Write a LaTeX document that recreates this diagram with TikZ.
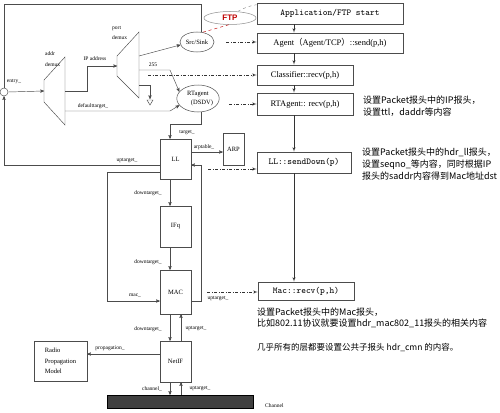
\documentclass[tikz,border=0pt]{standalone}
\usepackage{fontspec}
\setmainfont{Liberation Serif}
\newfontfamily\cjk{Noto Sans CJK SC}
\newfontfamily\ftpfont{Liberation Sans}
\usetikzlibrary{
  arrows,
  shapes.geometric,
  positioning
}

\begin{document}
\begin{tikzpicture}[x=1pt,y=-1pt,
      callbox/.style={
         rectangle,
         draw=black!70,
         line width=0.6pt,
         inner sep=0pt,
         font=\fontsize{8.5}{10}\selectfont
      },
      monobox/.style={
         callbox,
         font=\ttfamily\fontsize{9}{10}\selectfont
      },
      layer/.style={
         rectangle,
         draw=black!70,
         line width=0.5pt,
         minimum width=31pt,
         inner sep=0pt,
         font=\fontsize{6.5}{8}\selectfont
      },
      agentell/.style={
         ellipse,
         draw=black!70,
         line width=0.5pt,
         inner sep=0pt,
         align=center,
         font=\fontsize{6.5}{9}\selectfont
      },
      lbl/.style={inner sep=0pt,font=\fontsize{5.5}{10}\selectfont},
      note/.style={inner sep=0pt,anchor=west,align=left,
         font=\cjk\fontsize{9}{12}\selectfont},
      point/.style={coordinate},
      wire/.style={draw=black!70,line width=0.45pt},
      >=stealth',
      tip/.style={->,wire},
      flow/.style={-latex',draw=black!80,line width=0.5pt},
      dashflow/.style={flow,dash pattern=on 3pt off 1.5pt on 1pt off 1.5pt},
    ]
    \useasboundingbox (0,0) rectangle (500,412);
    % call sequence
    \node (app)   [monobox, minimum width=146pt, minimum height=21pt] at (330,13.5) {Application/FTP start};
    \node (agent) [callbox, minimum width=146pt, minimum height=20pt] at (330,43) {Agent{\cjk（}Agent/TCP{\cjk）}::send(p,h)};
    \node (cls)   [callbox, minimum width=96pt, minimum height=20pt] at (305,75) {Classifier::recv(p,h)};
    \node (rta)   [callbox, minimum width=96pt, minimum height=22pt] at (305,104) {RTAgent:: recv(p,h)};
    \node (llsd)  [monobox, minimum width=94pt, minimum height=21pt] at (304,162.5) {LL::sendDown(p)};
    \node (macr)  [monobox, minimum width=96pt, minimum height=18pt] at (306,291) {Mac::recv(p,h)};
    \node (col) [point] at (294,0) {};
    \node (dn)  [point] at (170,0) {};
    \node (up)  [point] at (181,0) {};

    \node (rtanote) [note] at (363,106) {设置Packet报头中的IP报头，\\设置ttl，daddr等内容};
    \node (llnote)  [note] at (362,164) {设置Packet报头中的hdr\_ll报头，\\设置seqno\_等内容，同时根据IP\\报头的saddr内容得到Mac地址dst};
    \node (macnote) [note, font=\cjk\fontsize{9}{10.5}\selectfont] at (257,318) {设置Packet报头中的Mac报头，\\比如802.11协议就要设置hdr\_mac802\_11报头的相关内容};
    \node (cmnnote) [note, font=\cjk\fontsize{8.5}{10}\selectfont] at (257,347) {几乎所有的层都要设置公共子报头 hdr\_cmn 的内容。};

    % node internals
    \node (entry) [circle, wire, draw, minimum size=8pt, inner sep=0pt] at (4,92) {};
    \node (src)  [agentell, minimum width=34pt, minimum height=20pt] at (197,42) {Src/Sink};
    \node (rtag) [agentell, minimum width=38pt, minimum height=27pt] at (198,98.5) {RTagent\\\hspace*{8pt}(DSDV)};
    \node (ftp)  [ellipse, draw=black!45, line width=0.5pt, minimum width=52pt, minimum height=13pt, inner sep=0pt,
                  font=\ftpfont\bfseries\fontsize{8}{9}\selectfont, text=red!75!black] at (230,18) {FTP};
    \node (ll)    [layer, minimum height=40pt] at (175.5,159) {LL};
    \node (ifq)   [layer, minimum height=41pt] at (175.5,226.5) {IFq};
    \node (mac)   [layer, minimum height=44pt] at (175.5,292) {MAC};
    \node (netif) [layer, minimum height=41pt] at (175.5,361.5) {NetIF};
    \node (arp)   [layer, minimum width=21pt, minimum height=32pt] at (233.5,149) {ARP};
    \node (rpm)   [layer, minimum width=53pt, minimum height=40pt, align=left,
                   font=\fontsize{6.5}{10.5}\selectfont] at (60.5,361) {Radio\\Propagation\\Model};
    \node (chan)  [rectangle, draw=black, fill=black!75, minimum width=146pt, minimum height=13pt, inner sep=0pt] at (180,401.5) {};

    % demuxes
    \coordinate (a1) at (44,80);
    \coordinate (a2) at (65,57);
    \coordinate (a3) at (65,125);
    \coordinate (a4) at (44,102);
    \draw[wire] (a1) -- (a2) -- (a3) -- (a4) -- cycle;
    \coordinate (p1) at (117,56);
    \coordinate (p2) at (139,32);
    \coordinate (p3) at (139,98);
    \coordinate (p4) at (117,76);
    \draw[wire] (p1) -- (p2) -- (p3) -- (p4) -- cycle;
    \coordinate (addrin) at (44,91);
    \coordinate (addrout) at (65,91);
    \coordinate (addrdef) at (65,111);
    \coordinate (portin) at (117,66);
    \coordinate (portsrc) at (139,56);
    \coordinate (port255) at (139,70);
    \coordinate (portnull) at (139,85);
    \coordinate (ftop) at (4,4);

    \draw[tip] (entry.east) -- (addrin);
    \draw[tip] (addrout) -- ++(22,0) |- (portin);
    \draw[tip] (portsrc) -- (src.190);
    \draw[tip] (port255) -- ++(31,0) -- (rtag.160);
    \draw[tip] (portnull) -- ++(11,0) -- ++(0,14);
    \draw[wire] (147,100) -- (153,100) -- (150,105) -- cycle;
    \draw[tip] (addrdef) -- ++(105,0) -- (rtag.200);
    \draw[wire] (src.65) |- (ftop) -- (entry.north);
    \draw[tip] (rtag.285) -- ++(0,12.5) -| (ll.north -| dn);
    \draw[tip] ([yshift=-6pt]ll.west) -| (entry.south);
    \draw[tip] ([yshift=-13pt]ll.west) -- ++(-53,0) |- ([yshift=-9pt]mac.west);
    \draw[tip] ([yshift=7pt]ll.east) -- ([yshift=7pt]ll.east -| arp.west);
    \draw[tip] (ll.south -| dn) -- (ifq.north -| dn);
    \draw[tip] (ifq.south -| dn) -- (mac.north -| dn);
    \draw[tip] ([yshift=-9pt]mac.east) -- ++(10,0) |- ([yshift=-6pt]ll.east);
    \draw[tip] (mac.south -| dn) -- (netif.north -| dn);
    \draw[tip] (netif.north -| up) -- (mac.south -| up);
    \draw[tip] (netif.south -| dn) -- (chan.north -| dn);
    \draw[tip] (chan.north -| up) -- (netif.south -| up);
    \draw[tip] ([yshift=7.5pt]netif.west) -- ([yshift=7.5pt]netif.west -| rpm.east);
    \draw[red!75!black, dashed, line width=0.45pt] (ftp.260) -- (src.60);
    \draw[black!45, dashed, line width=0.45pt] (ftp.40) to[bend left=10] ([yshift=-2pt]app.north west);

    % labels
    \node (lentry) [lbl] at (14,82) {entry\_};
    \node (laddr)  [lbl, align=left, anchor=west, font=\fontsize{5.5}{11}\selectfont] at (45,59.5) {addr\\demux};
    \node (lport)  [lbl, align=left, anchor=west, font=\fontsize{5.5}{10}\selectfont] at (112,33) {port\\demux};
    \node (lip)    [lbl] at (95,59) {IP address};
    \node (l255)   [lbl] at (153,65) {255};
    \node (ldef)   [lbl] at (93,106) {defaulttarget\_};
    \node (ltgt)   [lbl] at (187,133) {target\_};
    \node (larp)   [lbl] at (204,147) {arptable\_};
    \node (lup1)   [lbl] at (127,161) {uptarget\_};
    \node (ldn1)   [lbl] at (148,193) {downtarget\_};
    \node (ldn2)   [lbl] at (148,262) {downtarget\_};
    \node (lmac)   [lbl] at (135,296) {mac\_};
    \node (lup2)   [lbl] at (218,299) {uptarget\_};
    \node (ldn3)   [lbl] at (148,329) {downtarget\_};
    \node (lup3)   [lbl] at (196,329) {uptarget\_};
    \node (lprop)  [lbl] at (110,348) {propagation\_};
    \node (lchn)   [lbl] at (152,389) {channel\_};
    \node (lup4)   [lbl] at (200,389) {uptarget\_};
    \node (lchan)  [lbl, anchor=west] at (265,406) {Channel};

    % call flow
    \draw[flow] (app.south -| col) -- (agent.north -| col);
    \draw[flow] (agent.south -| col) -- (cls.north -| col);
    \draw[flow] (cls.south -| col) -- (rta.north -| col);
    \draw[flow] (rta.south -| col) -- (llsd.north -| col);
    \draw[flow] (llsd.south -| col) -- (macr.north -| col);
    \node (clsin) [point] at (148,75) {};
    \draw[dashflow, shorten <=12pt] (src.east) -- (src.east -| agent.west);
    \draw[dashflow] (clsin) -- (cls.west);
    \draw[dashflow, shorten <=10pt] (rtag.east |- rta.west) -- (rta.west);
    \draw[dashflow, shorten <=17pt] ([yshift=-10pt]ll.east) -- ([yshift=-10pt]ll.east -| llsd.west);
    \draw[dashflow, shorten <=16pt] (mac.east) -- (mac.east -| macr.west);
\end{tikzpicture}
\end{document}
